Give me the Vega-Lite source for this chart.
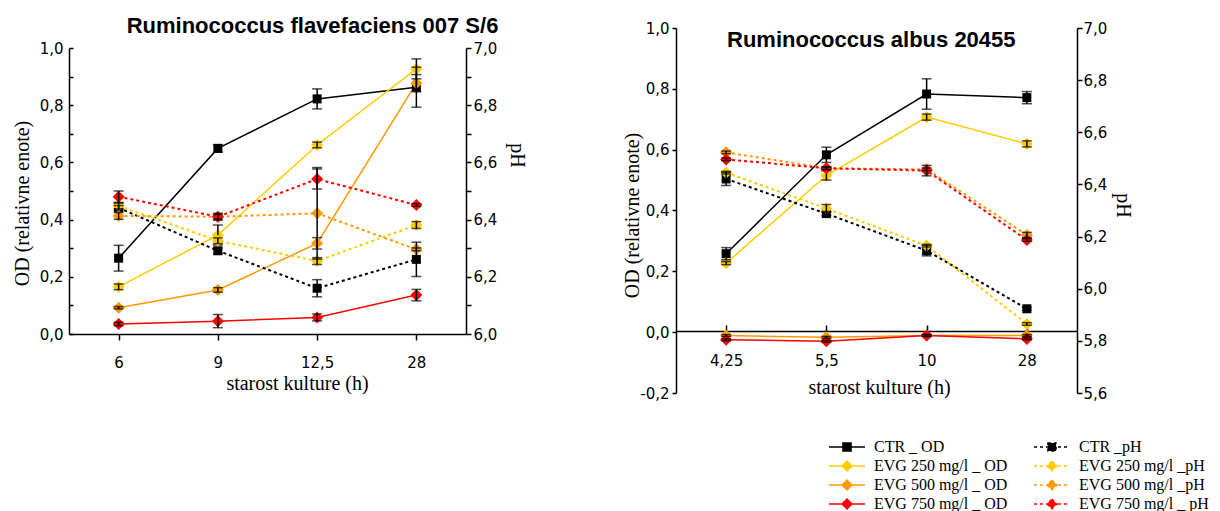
{
  "$schema": "https://vega.github.io/schema/vega-lite/v6.json",
  "background": "white",
  "padding": {"left": 12, "top": 15, "right": 0, "bottom": 0},
  "datasets": {
    "flav": [
      {"x": "6", "s": "CTR _ OD", "m": "OD", "v": 0.265, "e": 0.045},
      {"x": "9", "s": "CTR _ OD", "m": "OD", "v": 0.649, "e": 0.013},
      {"x": "12,5", "s": "CTR _ OD", "m": "OD", "v": 0.822, "e": 0.035},
      {"x": "28", "s": "CTR _ OD", "m": "OD", "v": 0.863, "e": 0.07},
      {"x": "6", "s": "EVG 250 mg/l _ OD", "m": "OD", "v": 0.165, "e": 0.01},
      {"x": "9", "s": "EVG 250 mg/l _ OD", "m": "OD", "v": 0.346, "e": 0.035},
      {"x": "12,5", "s": "EVG 250 mg/l _ OD", "m": "OD", "v": 0.661, "e": 0.01},
      {"x": "28", "s": "EVG 250 mg/l _ OD", "m": "OD", "v": 0.927, "e": 0.035},
      {"x": "6", "s": "EVG 500 mg/l _ OD", "m": "OD", "v": 0.092, "e": 0.004},
      {"x": "9", "s": "EVG 500 mg/l _ OD", "m": "OD", "v": 0.154, "e": 0.008},
      {"x": "12,5", "s": "EVG 500 mg/l _ OD", "m": "OD", "v": 0.317, "e": 0.02},
      {"x": "28", "s": "EVG 500 mg/l _ OD", "m": "OD", "v": 0.877, "e": 0.03},
      {"x": "6", "s": "EVG 750 mg/l _ OD", "m": "OD", "v": 0.035, "e": 0.006},
      {"x": "9", "s": "EVG 750 mg/l _ OD", "m": "OD", "v": 0.045, "e": 0.023},
      {"x": "12,5", "s": "EVG 750 mg/l _ OD", "m": "OD", "v": 0.058, "e": 0.012},
      {"x": "28", "s": "EVG 750 mg/l _ OD", "m": "OD", "v": 0.136, "e": 0.02},
      {"x": "6", "s": "CTR _pH", "m": "pH", "v": 6.441, "e": 0.008},
      {"x": "9", "s": "CTR _pH", "m": "pH", "v": 6.291, "e": 0.01},
      {"x": "12,5", "s": "CTR _pH", "m": "pH", "v": 6.16, "e": 0.03},
      {"x": "28", "s": "CTR _pH", "m": "pH", "v": 6.261, "e": 0.06},
      {"x": "6", "s": "EVG 250 mg/l _pH", "m": "pH", "v": 6.448, "e": 0.01},
      {"x": "9", "s": "EVG 250 mg/l _pH", "m": "pH", "v": 6.326, "e": 0.01},
      {"x": "12,5", "s": "EVG 250 mg/l _pH", "m": "pH", "v": 6.255, "e": 0.012},
      {"x": "28", "s": "EVG 250 mg/l _pH", "m": "pH", "v": 6.381, "e": 0.012},
      {"x": "6", "s": "EVG 500 mg/l _pH", "m": "pH", "v": 6.413, "e": 0.012},
      {"x": "9", "s": "EVG 500 mg/l _pH", "m": "pH", "v": 6.41, "e": 0.008},
      {"x": "12,5", "s": "EVG 500 mg/l _pH", "m": "pH", "v": 6.422, "e": 0.16},
      {"x": "28", "s": "EVG 500 mg/l _pH", "m": "pH", "v": 6.296, "e": 0.005},
      {"x": "6", "s": "EVG 750 mg/l _ pH", "m": "pH", "v": 6.48, "e": 0.02},
      {"x": "9", "s": "EVG 750 mg/l _ pH", "m": "pH", "v": 6.41, "e": 0.012},
      {"x": "12,5", "s": "EVG 750 mg/l _ pH", "m": "pH", "v": 6.542, "e": 0.035},
      {"x": "28", "s": "EVG 750 mg/l _ pH", "m": "pH", "v": 6.451, "e": 0.005}
    ],
    "albus": [
      {"x": "4,25", "s": "CTR _ OD", "m": "OD", "v": 0.258, "e": 0.02},
      {"x": "5,5", "s": "CTR _ OD", "m": "OD", "v": 0.583, "e": 0.025},
      {"x": "10", "s": "CTR _ OD", "m": "OD", "v": 0.783, "e": 0.05},
      {"x": "28", "s": "CTR _ OD", "m": "OD", "v": 0.771, "e": 0.02},
      {"x": "4,25", "s": "EVG 250 mg/l _ OD", "m": "OD", "v": 0.227, "e": 0.005},
      {"x": "5,5", "s": "EVG 250 mg/l _ OD", "m": "OD", "v": 0.515, "e": 0.015},
      {"x": "10", "s": "EVG 250 mg/l _ OD", "m": "OD", "v": 0.707, "e": 0.01},
      {"x": "28", "s": "EVG 250 mg/l _ OD", "m": "OD", "v": 0.619, "e": 0.01},
      {"x": "4,25", "s": "EVG 500 mg/l _ OD", "m": "OD", "v": -0.011, "e": 0.003},
      {"x": "5,5", "s": "EVG 500 mg/l _ OD", "m": "OD", "v": -0.017, "e": 0.003},
      {"x": "10", "s": "EVG 500 mg/l _ OD", "m": "OD", "v": -0.011, "e": 0.003},
      {"x": "28", "s": "EVG 500 mg/l _ OD", "m": "OD", "v": -0.011, "e": 0.003},
      {"x": "4,25", "s": "EVG 750 mg/l _ OD", "m": "OD", "v": -0.025, "e": 0.003},
      {"x": "5,5", "s": "EVG 750 mg/l _ OD", "m": "OD", "v": -0.03, "e": 0.003},
      {"x": "10", "s": "EVG 750 mg/l _ OD", "m": "OD", "v": -0.011, "e": 0.003},
      {"x": "28", "s": "EVG 750 mg/l _ OD", "m": "OD", "v": -0.022, "e": 0.003},
      {"x": "4,25", "s": "CTR _pH", "m": "pH", "v": 6.421, "e": 0.025},
      {"x": "5,5", "s": "CTR _pH", "m": "pH", "v": 6.288, "e": 0.008},
      {"x": "10", "s": "CTR _pH", "m": "pH", "v": 6.146, "e": 0.02},
      {"x": "28", "s": "CTR _pH", "m": "pH", "v": 5.923, "e": 0.005},
      {"x": "4,25", "s": "EVG 250 mg/l _pH", "m": "pH", "v": 6.445, "e": 0.005},
      {"x": "5,5", "s": "EVG 250 mg/l _pH", "m": "pH", "v": 6.308, "e": 0.015},
      {"x": "10", "s": "EVG 250 mg/l _pH", "m": "pH", "v": 6.165, "e": 0.005},
      {"x": "28", "s": "EVG 250 mg/l _pH", "m": "pH", "v": 5.865, "e": 0.005},
      {"x": "4,25", "s": "EVG 500 mg/l _pH", "m": "pH", "v": 6.523, "e": 0.005},
      {"x": "5,5", "s": "EVG 500 mg/l _pH", "m": "pH", "v": 6.462, "e": 0.005},
      {"x": "10", "s": "EVG 500 mg/l _pH", "m": "pH", "v": 6.458, "e": 0.005},
      {"x": "28", "s": "EVG 500 mg/l _pH", "m": "pH", "v": 6.206, "e": 0.01},
      {"x": "4,25", "s": "EVG 750 mg/l _ pH", "m": "pH", "v": 6.496, "e": 0.005},
      {"x": "5,5", "s": "EVG 750 mg/l _ pH", "m": "pH", "v": 6.462, "e": 0.005},
      {"x": "10", "s": "EVG 750 mg/l _ pH", "m": "pH", "v": 6.453, "e": 0.02},
      {"x": "28", "s": "EVG 750 mg/l _ pH", "m": "pH", "v": 6.187, "e": 0.005}
    ]
  },
  "spacing": 96,
  "hconcat": [
    {
      "width": 397,
      "height": 306,
      "data": {"name": "flav"},
      "title": {"text": "Ruminococcus flavefaciens 007 S/6", "anchor": "middle", "frame": "group", "dx": 45, "offset": -10, "baseline": "top", "font": "Liberation Sans", "fontSize": 22, "fontWeight": "bold", "color": "black"},
      "layer": [
        {
          "transform": [{"filter": "datum.m == 'OD'"}],
          "encoding": {
            "x": {"field": "x", "type": "ordinal", "sort": ["6", "9", "12,5", "28"], "scale": {"type": "point", "padding": 0.5},
              "axis": {"title": "starost kulture (h)", "labelAngle": 0, "tickSize": 6, "labelPadding": 15, "titleX": 228, "titleY": 55, "titleBaseline": "alphabetic", "titleAlign": "center"}},
            "y": {"field": "v", "type": "quantitative", "scale": {"domain": [0, 1], "range": [306, 20], "nice": false, "zero": false},
              "axis": {"title": "OD (relativne enote)", "orient": "left", "values": [0, 0.1, 0.2, 0.3, 0.4, 0.5, 0.6, 0.7, 0.8, 0.9, 1], "labelExpr": "(round(datum.value*10) % 2 == 0) ? replace(format(datum.value, '.1f'), '.', ',') : ''", "tickSize": -4, "labelPadding": 10, "titleAngle": 270, "titleX": -47, "titleY": 175, "titleAlign": "center", "titleBaseline": "middle"}},
            "color": {"field": "s", "type": "nominal", "legend": null,
              "scale": {"domain": ["CTR _ OD", "EVG 250 mg/l _ OD", "EVG 500 mg/l _ OD", "EVG 750 mg/l _ OD", "CTR _pH", "EVG 250 mg/l _pH", "EVG 500 mg/l _pH", "EVG 750 mg/l _ pH"], "range": ["#000000", "#FFCC00", "#FF9900", "#FF0000", "#000000", "#FFCC00", "#FF9900", "#FF0000"]}}
          },
          "layer": [
            {"mark": {"type": "line", "strokeWidth": 1.5}},
            {"transform": [{"filter": "indexof(datum.s, 'CTR') == 0"}], "mark": {"type": "point", "shape": "square", "filled": true, "size": 81, "opacity": 1}},
            {"transform": [{"filter": "indexof(datum.s, 'CTR') < 0"}], "mark": {"type": "point", "shape": "diamond", "filled": true, "size": 145, "opacity": 1}},
            {"mark": {"type": "errorbar", "ticks": {"size": 10, "thickness": 1.5}, "rule": {"strokeWidth": 1.5}}, "encoding": {"yError": {"field": "e"}, "color": {"value": "black"}}}
          ]
        },
        {
          "transform": [{"filter": "datum.m == 'pH'"}],
          "encoding": {
            "x": {"field": "x", "type": "ordinal", "sort": ["6", "9", "12,5", "28"], "scale": {"type": "point", "padding": 0.5},
              "axis": {"title": "starost kulture (h)", "labelAngle": 0, "tickSize": 6, "labelPadding": 15, "titleX": 228, "titleY": 55, "titleBaseline": "alphabetic", "titleAlign": "center"}},
            "y": {"field": "v", "type": "quantitative", "scale": {"domain": [6, 7], "range": [306, 20], "nice": false, "zero": false},
              "axis": {"title": "pH", "orient": "right", "values": [6, 6.1, 6.2, 6.3, 6.4, 6.5, 6.6, 6.7, 6.8, 6.9, 7], "labelExpr": "(round(datum.value*10) % 2 == 0) ? replace(format(datum.value, '.1f'), '.', ',') : ''", "tickSize": 5, "labelPadding": 2, "titleAngle": 90, "titleX": 50, "titleY": 127, "titleAlign": "center", "titleBaseline": "middle"}},
            "color": {"field": "s", "type": "nominal", "legend": null,
              "scale": {"domain": ["CTR _ OD", "EVG 250 mg/l _ OD", "EVG 500 mg/l _ OD", "EVG 750 mg/l _ OD", "CTR _pH", "EVG 250 mg/l _pH", "EVG 500 mg/l _pH", "EVG 750 mg/l _ pH"], "range": ["#000000", "#FFCC00", "#FF9900", "#FF0000", "#000000", "#FFCC00", "#FF9900", "#FF0000"]}}
          },
          "layer": [
            {"mark": {"type": "line", "strokeWidth": 2, "strokeDash": [3, 3]}},
            {"transform": [{"filter": "indexof(datum.s, 'CTR') == 0"}], "mark": {"type": "point", "shape": "square", "filled": true, "size": 81, "opacity": 1}},
            {"transform": [{"filter": "indexof(datum.s, 'CTR') < 0"}], "mark": {"type": "point", "shape": "diamond", "filled": true, "size": 145, "opacity": 1}},
            {"mark": {"type": "errorbar", "ticks": {"size": 10, "thickness": 1.5}, "rule": {"strokeWidth": 1.5}}, "encoding": {"yError": {"field": "e"}, "color": {"value": "black"}}}
          ]
        }
      ],
      "resolve": {"scale": {"y": "independent"}, "axis": {"y": "independent"}}
    },
    {
      "width": 401,
      "height": 365,
      "data": {"name": "albus"},
      "title": {"text": "Ruminococcus albus 20455", "anchor": "start", "frame": "group", "dx": 51, "offset": -31, "baseline": "top", "font": "Liberation Sans", "fontSize": 22, "fontWeight": "bold", "color": "black"},
      "layer": [
        {
          "transform": [{"filter": "datum.m == 'OD'"}],
          "encoding": {
            "x": {"field": "x", "type": "ordinal", "sort": ["4,25", "5,5", "10", "28"], "scale": {"type": "point", "padding": 0.5},
              "axis": {"title": "starost kulture (h)", "labelAngle": 0, "offset": -62, "tickSize": -6, "labelPadding": 28, "titleX": 203, "titleY": 62, "titleBaseline": "alphabetic", "titleAlign": "center"}},
            "y": {"field": "v", "type": "quantitative", "scale": {"domain": [-0.2, 1], "nice": false, "zero": false},
              "axis": {"title": "OD (relativne enote)", "orient": "left", "values": [-0.2, 0, 0.2, 0.4, 0.6, 0.8, 1], "labelExpr": "replace(replace(format(datum.value, '.1f'), '.', ','), '\u2212', '-')", "tickSize": 4, "labelPadding": 3, "titleAngle": 270, "titleX": -44, "titleY": 187, "titleAlign": "center", "titleBaseline": "middle"}},
            "color": {"field": "s", "type": "nominal", "legend": null,
              "scale": {"domain": ["CTR _ OD", "EVG 250 mg/l _ OD", "EVG 500 mg/l _ OD", "EVG 750 mg/l _ OD", "CTR _pH", "EVG 250 mg/l _pH", "EVG 500 mg/l _pH", "EVG 750 mg/l _ pH"], "range": ["#000000", "#FFCC00", "#FF9900", "#FF0000", "#000000", "#FFCC00", "#FF9900", "#FF0000"]}}
          },
          "layer": [
            {"mark": {"type": "line", "strokeWidth": 1.5}},
            {"transform": [{"filter": "indexof(datum.s, 'CTR') == 0"}], "mark": {"type": "point", "shape": "square", "filled": true, "size": 81, "opacity": 1}},
            {"transform": [{"filter": "indexof(datum.s, 'CTR') < 0"}], "mark": {"type": "point", "shape": "diamond", "filled": true, "size": 145, "opacity": 1}},
            {"mark": {"type": "errorbar", "ticks": {"size": 10, "thickness": 1.5}, "rule": {"strokeWidth": 1.5}}, "encoding": {"yError": {"field": "e"}, "color": {"value": "black"}}}
          ]
        },
        {
          "transform": [{"filter": "datum.m == 'pH'"}],
          "encoding": {
            "x": {"field": "x", "type": "ordinal", "sort": ["4,25", "5,5", "10", "28"], "scale": {"type": "point", "padding": 0.5},
              "axis": {"title": "starost kulture (h)", "labelAngle": 0, "offset": -62, "tickSize": -6, "labelPadding": 28, "titleX": 203, "titleY": 62, "titleBaseline": "alphabetic", "titleAlign": "center"}},
            "y": {"field": "v", "type": "quantitative", "scale": {"domain": [5.6, 7], "nice": false, "zero": false},
              "axis": {"title": "pH", "orient": "right", "values": [5.6, 5.8, 6, 6.2, 6.4, 6.6, 6.8, 7], "labelExpr": "replace(format(datum.value, '.1f'), '.', ',')", "tickSize": 5, "labelPadding": 1, "titleAngle": 90, "titleX": 45, "titleY": 177, "titleAlign": "center", "titleBaseline": "middle"}},
            "color": {"field": "s", "type": "nominal", "legend": null,
              "scale": {"domain": ["CTR _ OD", "EVG 250 mg/l _ OD", "EVG 500 mg/l _ OD", "EVG 750 mg/l _ OD", "CTR _pH", "EVG 250 mg/l _pH", "EVG 500 mg/l _pH", "EVG 750 mg/l _ pH"], "range": ["#000000", "#FFCC00", "#FF9900", "#FF0000", "#000000", "#FFCC00", "#FF9900", "#FF0000"]}}
          },
          "layer": [
            {"mark": {"type": "line", "strokeWidth": 2, "strokeDash": [3, 3]}},
            {"transform": [{"filter": "indexof(datum.s, 'CTR') == 0"}], "mark": {"type": "point", "shape": "square", "filled": true, "size": 81, "opacity": 1}},
            {"transform": [{"filter": "indexof(datum.s, 'CTR') < 0"}], "mark": {"type": "point", "shape": "diamond", "filled": true, "size": 145, "opacity": 1}},
            {"mark": {"type": "errorbar", "ticks": {"size": 10, "thickness": 1.5}, "rule": {"strokeWidth": 1.5}}, "encoding": {"yError": {"field": "e"}, "color": {"value": "black"}}}
          ]
        },
        {
          "mark": {"type": "point", "filled": true, "opacity": 0, "size": 324, "strokeWidth": 1.5},
          "encoding": {
            "fill": {"field": "s", "type": "nominal",
              "scale": {"domain": ["CTR _ OD", "EVG 250 mg/l _ OD", "EVG 500 mg/l _ OD", "EVG 750 mg/l _ OD", "CTR _pH", "EVG 250 mg/l _pH", "EVG 500 mg/l _pH", "EVG 750 mg/l _ pH"], "range": ["#000000", "#FFCC00", "#FF9900", "#FF0000", "#000000", "#FFCC00", "#FF9900", "#FF0000"]},
              "legend": {"title": null, "orient": "none", "legendX": 161, "legendY": 409, "columns": 2, "columnPadding": 23, "rowPadding": 1, "labelOffset": 17, "labelFont": "Liberation Serif", "labelFontSize": 16, "labelColor": "black", "labelLimit": 300, "symbolSize": 324, "symbolStrokeWidth": 1.5, "symbolOpacity": 1}},
            "stroke": {"field": "s", "type": "nominal",
              "scale": {"domain": ["CTR _ OD", "EVG 250 mg/l _ OD", "EVG 500 mg/l _ OD", "EVG 750 mg/l _ OD", "CTR _pH", "EVG 250 mg/l _pH", "EVG 500 mg/l _pH", "EVG 750 mg/l _ pH"], "range": ["#000000", "#FFCC00", "#FF9900", "#FF0000", "#000000", "#FFCC00", "#FF9900", "#FF0000"]},
              "legend": {"title": null, "orient": "none", "legendX": 161, "legendY": 409, "columns": 2, "columnPadding": 23, "rowPadding": 1, "labelOffset": 17, "labelFont": "Liberation Serif", "labelFontSize": 16, "labelColor": "black", "labelLimit": 300, "symbolSize": 324, "symbolStrokeWidth": 1.5, "symbolOpacity": 1}},
            "shape": {"field": "s", "type": "nominal",
              "scale": {"domain": ["CTR _ OD", "EVG 250 mg/l _ OD", "EVG 500 mg/l _ OD", "EVG 750 mg/l _ OD", "CTR _pH", "EVG 250 mg/l _pH", "EVG 500 mg/l _pH", "EVG 750 mg/l _ pH"], "range": ["M-2,0H2M-0.45,-0.45H0.45V0.45H-0.45Z", "M-2,0H2M0,-0.55L0.55,0L0,0.55L-0.55,0Z", "M-2,0H2M0,-0.55L0.55,0L0,0.55L-0.55,0Z", "M-2,0H2M0,-0.55L0.55,0L0,0.55L-0.55,0Z", "M-2,0H2M-0.45,-0.45H0.45V0.45H-0.45Z", "M-2,0H2M0,-0.55L0.55,0L0,0.55L-0.55,0Z", "M-2,0H2M0,-0.55L0.55,0L0,0.55L-0.55,0Z", "M-2,0H2M0,-0.55L0.55,0L0,0.55L-0.55,0Z"]},
              "legend": {"title": null, "orient": "none", "legendX": 161, "legendY": 409, "columns": 2, "columnPadding": 23, "rowPadding": 1, "labelOffset": 17, "labelFont": "Liberation Serif", "labelFontSize": 16, "labelColor": "black", "labelLimit": 300, "symbolSize": 324, "symbolStrokeWidth": 1.5, "symbolOpacity": 1}},
            "strokeDash": {"field": "s", "type": "nominal",
              "scale": {"domain": ["CTR _ OD", "EVG 250 mg/l _ OD", "EVG 500 mg/l _ OD", "EVG 750 mg/l _ OD", "CTR _pH", "EVG 250 mg/l _pH", "EVG 500 mg/l _pH", "EVG 750 mg/l _ pH"], "range": [[1, 0], [1, 0], [1, 0], [1, 0], [3, 3], [3, 3], [3, 3], [3, 3]]},
              "legend": {"title": null, "orient": "none", "legendX": 161, "legendY": 409, "columns": 2, "columnPadding": 23, "rowPadding": 1, "labelOffset": 17, "labelFont": "Liberation Serif", "labelFontSize": 16, "labelColor": "black", "labelLimit": 300, "symbolSize": 324, "symbolStrokeWidth": 1.5, "symbolOpacity": 1}}
          }
        }
      ],
      "resolve": {"scale": {"y": "independent"}, "axis": {"y": "independent"}}
    }
  ],
  "resolve": {
    "scale": {"x": "independent", "y": "independent", "fill": "independent", "stroke": "independent", "shape": "independent", "strokeDash": "independent"},
    "legend": {"fill": "independent", "stroke": "independent", "shape": "independent", "strokeDash": "independent"}
  },
  "config": {
    "font": "Liberation Sans",
    "view": {"stroke": null},
    "axis": {"grid": false, "domainColor": "black", "domainWidth": 1.5, "tickColor": "black", "tickWidth": 1.5, "labelColor": "black", "labelFont": "DejaVu Sans", "labelFontSize": 15, "titleColor": "black", "titleFont": "Liberation Serif", "titleFontSize": 20, "titleFontWeight": "normal"}
  }
}
